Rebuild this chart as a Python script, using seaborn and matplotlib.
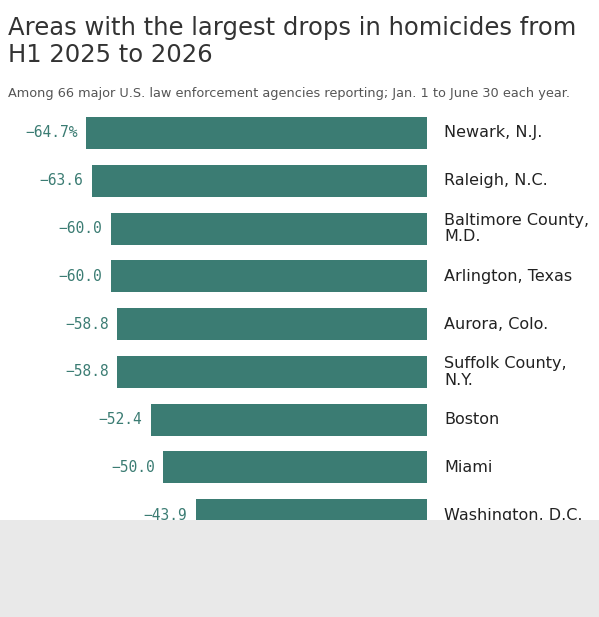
import matplotlib
matplotlib.use("Agg")
import matplotlib.pyplot as plt
import seaborn as sns
import pandas as pd
from matplotlib.patches import Rectangle

cities = ["Newark, N.J.", "Raleigh, N.C.", "Baltimore County,\nM.D.", "Arlington, Texas",
          "Aurora, Colo.", "Suffolk County,\nN.Y.", "Boston", "Miami", "Washington, D.C."]
changes = [-64.7, -63.6, -60.0, -60.0, -58.8, -58.8, -52.4, -50.0, -43.9]
value_labels = ["−64.7%", "−63.6", "−60.0", "−60.0", "−58.8", "−58.8", "−52.4", "−50.0", "−43.9"]

df = pd.DataFrame({"city": cities, "change": changes})
W, H = 599, 617
fig = plt.figure(figsize=(W/100, H/100), dpi=100)
fig.patch.set_facecolor("white")
ax = fig.add_axes([0, (H-520)/H, 1, (520-110)/H])
teal = "#3b7c73"
sns.barplot(data=df, y="city", x="change", orient="h", color=teal, width=0.67,
            saturation=1, ax=ax)
ax.set_xlim(-427/5.27, 172/5.27)
ax.set_ylim(8.10, -0.48)
ax.axis("off")
for i, (v, lab, c) in enumerate(zip(changes, value_labels, cities)):
    ax.text(v - 1.6, i, lab, ha="right", va="center", family="DejaVu Sans Mono",
            fontsize=10.5, color=teal)
    ax.text(17/5.27, i, c, ha="left", va="center", fontsize=11.5, color="#222222",
            linespacing=1.15)

fig.text(8/W, 1-16/H, "Areas with the largest drops in homicides from\nH1 2025 to 2026",
         ha="left", va="top", fontsize=17.5, color="#333333", linespacing=1.15)
fig.text(8/W, 1-93/H, "Among 66 major U.S. law enforcement agencies reporting; Jan. 1 to June 30 each year.",
         ha="left", va="center", fontsize=9.3, color="#555555")
fig.patches.append(Rectangle((0, 0), 1, (H-520)/H, transform=fig.transFigure,
                             facecolor="#e9e9e9", edgecolor="none", zorder=5))
fig.savefig("out.png", dpi=100)
